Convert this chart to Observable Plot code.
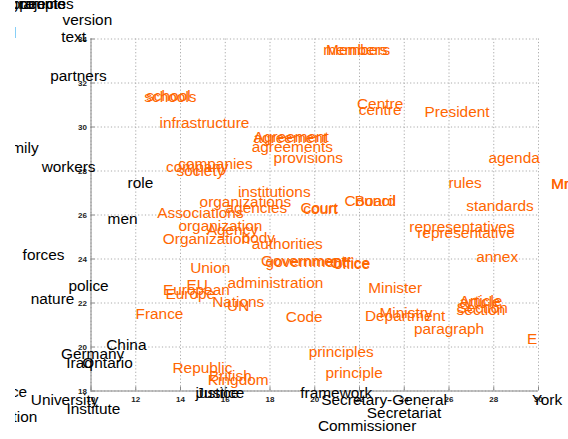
<!DOCTYPE html>
<html>
<head>
<meta charset="utf-8">
<script src="https://cdn.jsdelivr.net/npm/d3@7"></script>
<script src="https://cdn.jsdelivr.net/npm/@observablehq/plot@0.6"></script>
<style>
  html, body { margin: 0; padding: 0; background: #fff; }
  #chart { width: 568px; height: 439px; overflow: hidden; }
  #chart svg { margin-left: 15px; display: block; }
</style>
</head>
<body>
<div id="chart"></div>
<script>
// Black words (first group)
const blackWords = ["people","projects","programmes","version","text","control","partners","family","workers","role","men","forces","police","nature","China","Germany","Iraq","Ontario","Service","University","Institute","Federation","justice","Justice","framework","Secretary-General","Secretariat","Commissioner","York"];
const blackX = [7.83,7.66,7.30,9.84,9.22,5.62,9.44,6.76,9.00,12.21,11.41,7.88,9.89,8.28,11.58,10.07,9.49,10.74,6.00,8.82,10.11,5.96,15.65,15.78,20.96,23.10,23.99,22.34,30.38];
const blackY = [35.58,35.58,35.58,34.84,34.07,34.25,32.30,29.02,28.20,27.43,25.80,24.20,22.75,22.20,20.11,19.70,19.25,19.25,17.93,17.57,17.20,16.80,17.89,17.89,17.89,17.61,16.98,16.39,17.61];

// Orange words (second group)
const orangeWords = ["members","Members","schools","school","infrastructure","Agreement","agreement","agreements","provisions","companies","company","society","institutions","organizations","agencies","Associations","Court","court","organization","Agency","Organization","body","authorities","Union","Government","government","Office","office","Council","Board","Centre","centre","President","agenda","rules","Mr","Mr.","standards","representatives","representative","annex","Minister","administration","EU","European","Europe","Nations","UN","France","Code","Department","Ministry","Article","article","Section","section","paragraph","E","principles","principle","Republic","British","Kingdom"];
const orangeX = [21.81,21.94,13.55,13.46,15.07,18.95,18.91,19.00,19.71,15.56,14.75,14.89,18.19,16.90,17.39,14.89,20.20,20.25,15.78,16.32,15.16,17.48,18.77,15.33,19.49,19.62,21.58,21.67,22.48,22.70,22.92,22.92,26.36,28.91,26.72,30.96,31.05,28.28,26.58,26.76,28.15,23.59,18.24,14.75,14.71,14.44,16.58,16.58,13.06,19.53,24.04,24.08,27.43,27.39,27.48,27.43,26.00,29.71,21.18,21.76,14.98,16.23,16.58];
const orangeY = [33.48,33.48,31.34,31.39,30.16,29.52,29.48,29.07,28.61,28.30,28.16,27.98,27.02,26.61,26.30,26.07,26.30,26.25,25.48,25.30,24.89,24.93,24.70,23.57,23.89,23.84,23.80,23.75,26.63,26.62,31.02,30.75,30.70,28.57,27.43,27.39,27.39,26.39,25.43,25.16,24.07,22.70,22.89,22.82,22.59,22.41,22.02,21.84,21.48,21.34,21.39,21.52,22.07,22.02,21.75,21.70,20.80,20.34,19.75,18.80,19.02,18.70,18.48];

const xTicks = [10,12,14,16,18,20,22,24,26,28,30];
const yTicks = [18,20,22,24,26,28,30,32,34];

const words = [
  ...blackWords.map((w, i) => ({word: w, x: blackX[i], y: blackY[i], group: "g1"})),
  ...orangeWords.map((w, i) => ({word: w, x: orangeX[i], y: orangeY[i], group: "g2"}))
];

const font = "'Liberation Sans', Arial, Helvetica, sans-serif";

const chart = Plot.plot({
  width: 553,
  height: 439,
  marginLeft: 75.5,
  marginRight: 30,
  marginTop: 38.5,
  marginBottom: 48.5,
  style: {fontFamily: font, overflow: "hidden", background: "white"},
  x: {domain: [10, 30], label: null},
  y: {domain: [18, 34], label: null},
  color: {domain: ["g1", "g2"], range: ["#000000", "#ff6600"]},
  marks: [
    Plot.gridX(xTicks, {stroke: "#aaaaaa", strokeOpacity: 1, strokeDasharray: "1.2,2.2", strokeWidth: 1}),
    Plot.gridY(yTicks, {stroke: "#aaaaaa", strokeOpacity: 1, strokeDasharray: "1.2,2.2", strokeWidth: 1}),
    Plot.ruleX([10], {stroke: "#888888", strokeWidth: 1}),
    Plot.ruleY([18], {stroke: "#888888", strokeWidth: 1}),
    Plot.axisX(xTicks, {tickSize: 4, dy: -4, tickFormat: () => "", stroke: "#888888", label: null}),
    Plot.axisY(yTicks, {tickSize: 4, dx: 4, tickFormat: () => "", stroke: "#888888", label: null}),
    Plot.axisX(xTicks, {tickSize: 0, tickPadding: 5, fontSize: 8, fontWeight: "bold", fill: "#222", label: null}),
    Plot.axisY(yTicks, {tickSize: 0, tickPadding: 4, fontSize: 8, fontWeight: "bold", fill: "#222", label: null}),
    Plot.text(words, {
      x: "x", y: "y", text: "word", fill: "group",
      fontSize: 15.4, textAnchor: "middle", lineAnchor: "middle"
    })
  ]
});

document.getElementById("chart").appendChild(chart);
</script>
</body>
</html>
